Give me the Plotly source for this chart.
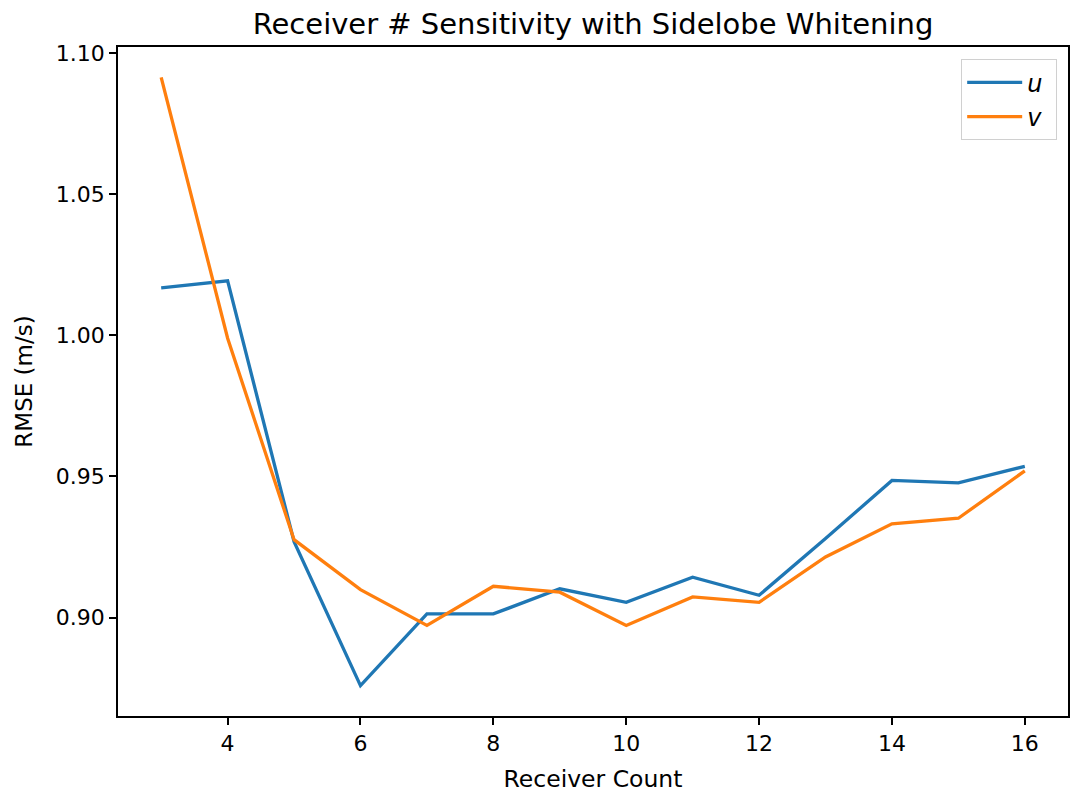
import plotly.graph_objects as go

# Receiver count sweep and RMSE per velocity component
receiver_count = [3, 4, 5, 6, 7, 8, 9, 10, 11, 12, 13, 14, 15, 16]
rmse_u = [1.0168, 1.0193, 0.9269, 0.8759, 0.9013, 0.9013, 0.9102, 0.9054,
          0.9143, 0.9079, 0.9280, 0.9486, 0.9477, 0.9536]
rmse_v = [1.0914, 0.9990, 0.9276, 0.9099, 0.8972, 0.9111, 0.9090, 0.8972,
          0.9073, 0.9054, 0.9215, 0.9332, 0.9352, 0.9520]
x_ticks = [4, 6, 8, 10, 12, 14, 16]
y_ticks = [0.90, 0.95, 1.00, 1.05, 1.10]

BLUE = "#1f77b4"
ORANGE = "#ff7f0e"
FONT = "DejaVu Sans"


def padded(lo, hi, frac=0.05):
    span = hi - lo
    return [lo - frac * span, hi + frac * span]


fig = go.Figure()
fig.add_trace(go.Scatter(x=receiver_count, y=rmse_u, mode="lines",
                         name="<i>u</i>\u00a0", line=dict(color=BLUE, width=3.3)))
fig.add_trace(go.Scatter(x=receiver_count, y=rmse_v, mode="lines",
                         name="<i>v</i>\u00a0", line=dict(color=ORANGE, width=3.3)))

all_y = rmse_u + rmse_v
axis_common = dict(
    showline=True, linecolor="black", linewidth=1.6, mirror=True,
    ticks="outside", ticklen=7, tickwidth=1.6, tickcolor="black",
    showgrid=False, zeroline=False,
    tickfont=dict(family=FONT, size=22, color="black"),
)

fig.update_layout(
    width=1071, height=795,
    margin=dict(l=118, r=1, t=47, b=79),
    paper_bgcolor="white", plot_bgcolor="white",
    font=dict(family=FONT, color="black"),
    title=dict(text="Receiver # Sensitivity with Sidelobe Whitening",
               x=0.5, xref="paper", y=1 - 24 / 795, yref="container",
               yanchor="middle", xanchor="center",
               font=dict(family=FONT, size=29, color="black")),
    xaxis=dict(range=padded(min(receiver_count), max(receiver_count)),
               tickvals=x_ticks,
               title=dict(text="Receiver Count", standoff=15,
                          font=dict(family=FONT, size=23.5, color="black")),
               **axis_common),
    yaxis=dict(range=padded(min(all_y), max(all_y)),
               tickvals=y_ticks, tickformat=".2f",
               title=dict(text="RMSE (m/s)", standoff=17,
                          font=dict(family=FONT, size=23, color="black")),
               **axis_common),
    legend=dict(x=0.9884, y=0.982, xanchor="right", yanchor="top",
                bgcolor="white", bordercolor="#d0d0d0", borderwidth=1.2,
                font=dict(family=FONT, size=24, color="black"),
                itemwidth=55),
    showlegend=True,
)

fig.write_html("out.html")
